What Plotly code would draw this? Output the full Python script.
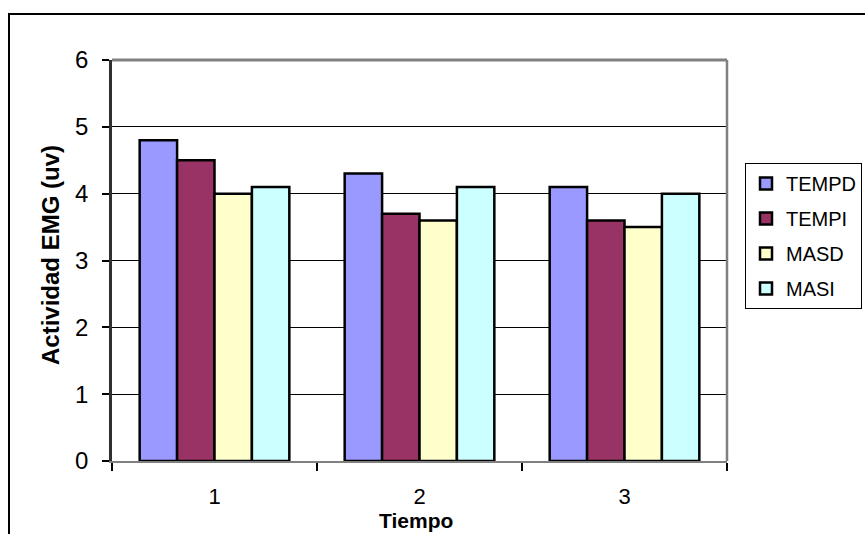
import plotly.graph_objects as go

# EMG activity by time point for each muscle
tiempos = ["1", "2", "3"]
series = ["TEMPD", "TEMPI", "MASD", "MASI"]
tempd = [4.8, 4.3, 4.1]
tempi = [4.5, 3.7, 3.6]
masd = [4.0, 3.6, 3.5]
masi = [4.1, 4.1, 4.0]
colores = ["#9999FF", "#993366", "#FFFFCC", "#CCFFFF"]
y_ticks = [0, 1, 2, 3, 4, 5, 6]

FONT = "Liberation Sans, Arial, sans-serif"

fig = go.Figure()
for i, (name, vals) in enumerate(zip(series, [tempd, tempi, masd, masi])):
    fig.add_trace(go.Bar(
        x=tiempos, y=vals, name=name, legendgroup=name,
        marker=dict(color=colores[i], line=dict(color="black", width=2.5)),
    ))

L, R, T, B = 112, 727, 60, 461
W, H = 865, 534

def px(x):
    return (x - L) / (R - L)

def py(y):
    return (B - y) / (B - T)

fig.update_layout(
    width=W, height=H,
    margin=dict(l=L, r=W - R, t=T, b=H - B, autoexpand=False),
    paper_bgcolor="white", plot_bgcolor="white",
    font=dict(family=FONT, color="black"),
    barmode="group", bargap=0.27, bargroupgap=0,
    showlegend=True,
    legend=dict(
        x=px(745), y=py(163), xanchor="left", yanchor="top",
        bordercolor="black", borderwidth=1, bgcolor="white",
        font=dict(size=20, family=FONT), tracegroupgap=6,
        itemwidth=30,
    ),
    xaxis=dict(
        type="category", showgrid=False,
        showline=True, linecolor="#808080", linewidth=2,
        ticks="outside", tickson="boundaries", ticklen=8, tickcolor="black",
        tickwidth=1.5, tickfont=dict(size=22), ticklabelstandoff=15,
    ),
    yaxis=dict(
        range=[0, 6], tickvals=y_ticks, showgrid=True, gridcolor="black",
        gridwidth=1, zeroline=False,
        showline=True, linecolor="#303030", linewidth=2.5,
        ticks="outside", ticklen=7, tickcolor="black", tickwidth=1.5,
        tickfont=dict(size=24), ticklabelstandoff=9,
    ),
    shapes=[
        # plot area frame (top and right edges)
        dict(type="line", xref="paper", yref="paper", x0=0, x1=1, y0=1, y1=1,
             line=dict(color="#808080", width=3)),
        dict(type="line", xref="paper", yref="paper", x0=1, x1=1, y0=0, y1=1,
             line=dict(color="#808080", width=2.5)),
        # chart area border
        dict(type="rect", xref="paper", yref="paper",
             x0=px(9), x1=px(880), y0=py(14), y1=py(560),
             line=dict(color="black", width=2), layer="above"),
    ],
    annotations=[
        dict(text="<b>Actividad EMG (uv)</b>", textangle=-90,
             xref="paper", yref="paper", x=px(50), y=py(255),
             xanchor="center", yanchor="middle", showarrow=False,
             font=dict(size=24, family=FONT)),
        dict(text="<b>Tiempo</b>",
             xref="paper", yref="paper", x=px(416), y=py(520),
             xanchor="center", yanchor="middle", showarrow=False,
             font=dict(size=21, family=FONT)),
    ],
)

fig.write_html("out.html")
